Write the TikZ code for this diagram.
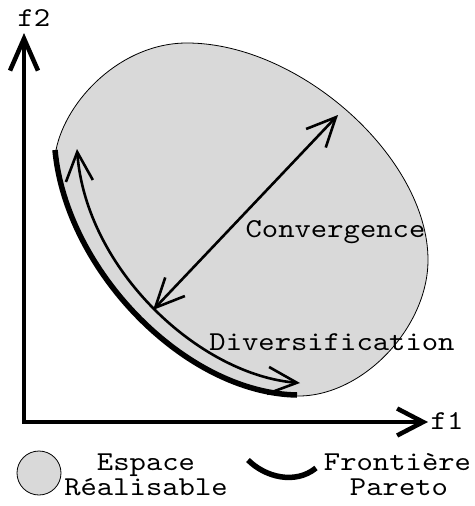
\documentclass[tikz,border=0pt]{standalone}
\usepackage{fontspec}
\newfontfamily\courf{lmmono10-regular.otf}[FakeStretch=1.14]
\usetikzlibrary{arrows.meta}
\tikzset{
  bigbarb/.tip={Straight Barb[length=29pt,width=27pt]},
  ybarb/.tip={Straight Barb[length=32pt,width=28pt]},
  xbarb/.tip={Straight Barb[length=26pt,width=27pt]}
}
\begin{document}
\begin{tikzpicture}[x=1pt,y=-1pt,
  lbl/.style={font=\courf\fontsize{27.3pt}{30pt}\selectfont, anchor=base, inner sep=0pt},
  region/.style={fill=black!15, draw=black, line width=0.8pt},
  pareto/.style={line width=5.5pt},
  axisline/.style={line width=4.5pt, line join=miter},
  thinarrow/.style={line width=2.6pt}
]
\useasboundingbox (0,0) rectangle (474,506);

% feasible region
\coordinate (pS) at (55,150);
\coordinate (pE) at (297,395);
\fill[black!15] (pS) .. controls (66,270) and (185,393) .. (pE)
  -- (297,396) .. controls (362,397) and (428,328) .. (428,260)
  .. controls (428,158) and (300,43) .. (187,43)
  .. controls (121,43) and (66,100) .. (56,150) -- cycle;
\draw[line width=0.8pt] (297,396) .. controls (362,397) and (428,328) .. (428,260)
  .. controls (428,158) and (300,43) .. (187,43)
  .. controls (121,43) and (66,100) .. (56,150);

% Pareto front
\draw[pareto] (pS) .. controls (66,270) and (185,393) .. (pE);

% diversification arc
\coordinate (dA) at (77,149);
\coordinate (dB) at (300,383);
\draw[thinarrow, arrows={bigbarb-bigbarb}] (dA) .. controls (86,270) and (200,375) .. (dB);

% convergence arrow
\coordinate (cA) at (153,310);
\coordinate (cB) at (338,115);
\draw[thinarrow, arrows={bigbarb-bigbarb}] (cA) -- (cB);

% axes
\coordinate (O) at (24,422);
\coordinate (ytip) at (24,33);
\coordinate (xtip) at (428,422);
\draw[axisline, arrows={ybarb-xbarb}] (ytip) -- (O) -- (xtip);

% labels
\node[lbl] (f2) at (34,27) {f2};
\node[lbl] (f1) at (447,429) {f1};
\node[lbl] (conv) at (335.5,237) {Convergence};
\node[lbl] (div) at (332,350) {Diversification};

% legend
\node[circle, region, minimum size=44pt, inner sep=0pt] (legcirc) at (39,473) {};
\node[lbl] (esp) at (146,470) {Espace};
\node[lbl] (rea) at (146,495) {Réalisable};
\coordinate (lpA) at (248,460);
\coordinate (lpB) at (316,468);
\draw[pareto] (lpA) .. controls (265,477) and (295,485) .. (lpB);
\node[lbl] (fro) at (397.5,470) {Frontière};
\node[lbl] (par) at (399,495) {Pareto};
\end{tikzpicture}
\end{document}
